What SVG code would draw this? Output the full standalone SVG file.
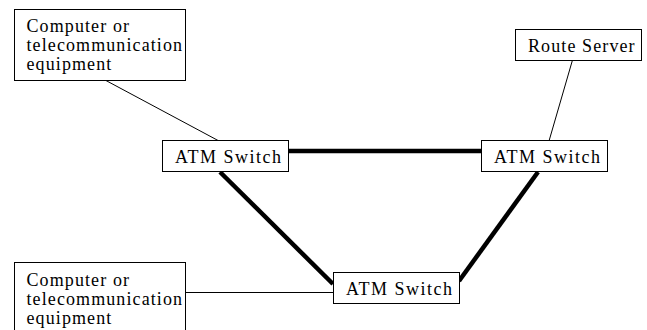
<svg xmlns="http://www.w3.org/2000/svg" width="647" height="330" viewBox="0 0 647 330">
<style>
.box{fill:#fff;stroke:#000;stroke-width:1}
.t{font-family:"Liberation Serif","Times New Roman",serif;font-size:18px;fill:#000;letter-spacing:1.1px}
.a{letter-spacing:1.5px}
.thin{stroke:#000;stroke-width:1;fill:none}
.thick{stroke:#000;stroke-width:4.5;fill:none}
</style>
<rect width="647" height="330" fill="#fff"/>
<g id="connectors">
<line class="thin" x1="105" y1="80" x2="219" y2="141"/>
<line class="thin" x1="572.5" y1="60" x2="549" y2="141"/>
<line class="thin" x1="185" y1="292.5" x2="333" y2="292.5"/>
<line class="thick" x1="288" y1="151" x2="482" y2="151"/>
<line class="thick" x1="220" y1="172" x2="333" y2="284"/>
<line class="thick" x1="538" y1="172" x2="459" y2="281"/>
</g>
<g id="computer-1"><rect class="box" x="14.5" y="9.5" width="171" height="71"/>
<text class="t" x="26.5" y="32">Computer or</text><text class="t" x="26.5" y="51">telecommunication</text><text class="t" x="26.5" y="70">equipment</text></g>
<g id="computer-2"><rect class="box" x="14.5" y="262.5" width="171" height="75"/>
<text class="t" x="26.5" y="286">Computer or</text><text class="t" x="26.5" y="305">telecommunication</text><text class="t" x="26.5" y="324">equipment</text></g>
<g id="route-server"><rect class="box" x="515.5" y="29.5" width="126" height="31"/>
<text class="t" x="528" y="52">Route Server</text></g>
<g id="atm-switch-1"><rect class="box" x="162.5" y="140.5" width="126" height="31"/>
<text class="t a" x="175" y="163">ATM Switch</text></g>
<g id="atm-switch-2"><rect class="box" x="481.5" y="140.5" width="126" height="31"/>
<text class="t a" x="494" y="163">ATM Switch</text></g>
<g id="atm-switch-3"><rect class="box" x="333.5" y="272.5" width="126" height="31"/>
<text class="t a" x="346" y="295">ATM Switch</text></g>
</svg>
